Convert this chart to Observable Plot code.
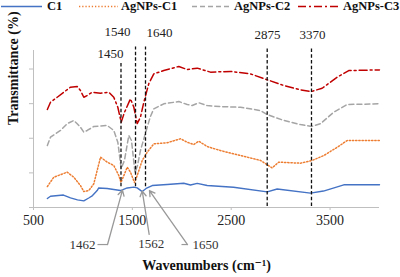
<!DOCTYPE html>
<html><head><meta charset="utf-8">
<script src="https://cdn.jsdelivr.net/npm/d3@7"></script>
<script src="https://cdn.jsdelivr.net/npm/@observablehq/plot@0.6"></script>
<style>
body{margin:0;background:#fff;font-family:"Liberation Serif","Times New Roman","DejaVu Serif",serif;}
#wrap{position:relative;width:400px;height:277px;overflow:hidden;}
#legend{position:relative;height:16px;width:400px;}
#legend .it{position:absolute;top:0;height:14px;font-weight:bold;font-size:12.5px;line-height:13px;color:#111;white-space:nowrap;font-family:"Liberation Serif","Times New Roman","DejaVu Serif",serif;}
#legend svg{position:absolute;top:0;}
svg text{font-family:"Liberation Serif","Times New Roman","DejaVu Serif",serif;}
</style></head>
<body><div id="wrap"><div id="legend"></div><div id="chart"></div></div>
<script>
// ---- data ----
const seriesNames = ["C1", "AgNPs-C1", "AgNPs-C2", "AgNPs-C3"];
const seriesColors = ["#4472C4", "#ED7D31", "#A5A5A5", "#C00000"];
const seriesDash = ["none", "1.3,1.9", "5,3", "8,3,2,3"];

const wnC1 = [640,672,803,874,945,1009,1059,1097,1144,1160,1245,1312,1380,1448,1515,1549,1600,1639,1701,1852,2020,2088,2156,2257,2523,2864,2965,3302,3433,3639,4000];
const trC1 = [5.2,6.5,7.2,5.6,4.4,3.8,5.5,6.9,9.8,11.3,11.0,10.4,9.8,11.3,11.8,11.3,9.2,11.0,12.7,13.3,14.0,13.0,13.9,12.7,11.7,9.0,10.7,8.3,9.5,13.1,13.1];

const wnAg1 = [640,705,841,908,975,1009,1059,1110,1144,1178,1245,1312,1363,1385,1448,1481,1522,1549,1600,1650,1717,1852,1987,2055,2121,2172,2257,2391,2594,2796,2864,2914,2981,3201,3319,3436,3572,3673,4000];
const trAg1 = [12.1,17.5,20.4,17.5,12.7,9.2,9.8,13.7,21.4,29.1,26.2,24.3,18.5,14.4,23.3,20.4,14.4,18.5,27.2,31.9,36.8,37.4,39.7,37.7,36.4,38.3,35.2,32.9,30.0,27.2,24.7,22.9,26.2,25.6,27.2,30.0,34.8,38.7,38.7];

const wnAg2 = [640,672,773,841,908,942,975,1009,1043,1110,1245,1312,1353,1387,1420,1464,1491,1527,1552,1582,1650,1683,1717,1818,1970,2055,2105,2172,2257,2391,2594,2796,2864,3032,3201,3312,3403,3538,3673,4000];
const trAg2 = [35.8,40.6,44.5,48.4,50.3,48.4,46.4,43.5,44.5,46.8,47.4,44.5,37.7,22.5,27.2,41.6,38.7,20.2,24.3,32.9,46.4,52.6,57.0,59.9,61.2,59.5,58.9,60.5,58.9,58.3,57.9,56.0,53.7,50.3,47.9,46.8,48.4,55.1,59.5,59.9];

const wnAg3 = [640,672,740,806,874,942,975,1009,1043,1094,1178,1262,1312,1353,1387,1420,1481,1515,1549,1582,1616,1666,1717,1818,1970,2055,2156,2290,2493,2695,2864,3032,3201,3312,3420,3572,3689,4000];
const trAg3 = [56.6,60.8,63.7,66.6,69.5,69.9,67.6,63.7,64.7,66.6,66.0,66.6,63.7,57.9,49.3,54.9,62.8,57.9,48.5,52.2,60.8,71.5,77.2,79.1,81.5,79.7,80.5,78.2,78.6,77.2,73.8,70.5,68.0,67.0,68.9,75.3,79.1,79.5];

const xTicks = [500, 1500, 2500, 3500];
const yTicks = [0, 20, 40, 60, 80];

// vertical marker lines (drawn position, label)
const peakX = [1385, 1532, 1633, 2864, 3312];
const peakTop = [83.2, 92.7, 92.7, 92.7, 92.7];
const peakBottom = [12, 12, 12, 0.6, 0.6];
const peakLabels = ["1450", "1540", "1640", "2875", "3370"];
const peakLabelX = [1279, 1350, 1775, 2867, 3322];
const peakLabelY = [89.0, 101.7, 101.1, 99.9, 99.9];

// arrow annotations under the axis
const arrowLabels = ["1462", "1562", "1650"];
const arrowLabelX = [1127, 1691, 2108];
const arrowLabelY = [-21.4, -20.8, -21.4];
const arrowLabelAnchor = ["end", "middle", "start"];
const arrowFromX = [1249, 1670, 2058];
const arrowFromY = [-21.4, -15.5, -21.4];
const arrowToX = [1400, 1600, 1673];
const arrowToY = [10.0, 9.5, 9.8];
const connFromX = [1147, 1997];
const connToX = [1249, 2058];
const connY = [-21.4, -21.4];

// ---- build tables ----
const wns = [wnC1, wnAg1, wnAg2, wnAg3];
const trs = [trC1, trAg1, trAg2, trAg3];
const seriesData = seriesNames.map((name, i) => wns[i].map((w, j) => ({name, x: w, y: trs[i][j]})));
const peaks = peakX.map((x, i) => ({x, y1: peakBottom[i], y2: peakTop[i], label: peakLabels[i], lx: peakLabelX[i], ly: peakLabelY[i]}));
const arrows = arrowLabels.map((t, i) => ({t, lx: arrowLabelX[i], ly: arrowLabelY[i], anchor: arrowLabelAnchor[i], x1: arrowFromX[i], y1: arrowFromY[i], x2: arrowToX[i], y2: arrowToY[i]}));
const conns = connFromX.map((x, i) => ({x1: x, x2: connToX[i], y: connY[i]}));

const font = "Liberation Serif, Times New Roman, DejaVu Serif, serif";
const marks = [
  Plot.ruleX([500], {stroke: "#BFBFBF", strokeWidth: 1}),
  Plot.ruleY([0], {stroke: "#BFBFBF", strokeWidth: 1}),
  Plot.axisY({ticks: yTicks, tickFormat: () => "", tickSize: 4, stroke: "#BFBFBF", label: null}),
  Plot.axisX({ticks: xTicks, tickFormat: d => String(d), tickSize: 3, tickPadding: 5, fontSize: 14, fontFamily: font, fill: "#222", stroke: "#BFBFBF", label: null}),
  ...seriesData.map((d, i) => Plot.line(d, {x: "x", y: "y", stroke: seriesColors[i], strokeWidth: i === 0 ? 1.4 : 1.5, strokeDasharray: seriesDash[i], curve: "linear"})),
  Plot.ruleX(peaks, {x: "x", y1: "y1", y2: "y2", stroke: "#111", strokeWidth: 1.3, strokeDasharray: "3.5,2.2"}),
  Plot.text(peaks, {x: "lx", y: "ly", text: "label", fontSize: 13, fontFamily: font, fill: "#222"}),
  Plot.link(conns, {x1: "x1", x2: "x2", y1: "y", y2: "y", stroke: "#999", strokeWidth: 1.2}),
  Plot.arrow(arrows, {x1: "x1", y1: "y1", x2: "x2", y2: "y2", stroke: "#999", strokeWidth: 1.3, headLength: 7}),
  ...["end","middle","start"].map(a => Plot.text(arrows.filter(d => d.anchor === a), {x: "lx", y: "ly", text: "t", textAnchor: a, fontSize: 13, fontFamily: font, fill: "#333"})),
  Plot.text(["Wavenumbers (cm\u207B\u00B9)"], {frameAnchor: "bottom", dy: 62, fontSize: 14, fontWeight: "bold", fontFamily: font, fill: "#111"}),
  Plot.text(["Transmittance (%)"], {frameAnchor: "left", rotate: -90, dx: -20, dy: -4, fontSize: 14, fontWeight: "bold", fontFamily: font, fill: "#111"})
];

const chart = Plot.plot({
  width: 400, height: 261,
  marginLeft: 33, marginRight: 21, marginTop: 34, marginBottom: 70,
  x: {domain: [500, 4000]},
  y: {domain: [0, 90.7]},
  style: {fontFamily: font, overflow: "visible", background: "#fff"},
  marks
});
document.getElementById("chart").appendChild(chart);

// ---- legend ----
const legendX = [[1, 42, 47], [79, 118, 121], [192, 230, 234], [298, 338, 343]];
const leg = document.getElementById("legend");
seriesNames.forEach((n, i) => {
  const [x1, x2, tx] = legendX[i];
  const s = document.createElementNS("http://www.w3.org/2000/svg", "svg");
  s.setAttribute("width", x2 - x1 + 2); s.setAttribute("height", 14);
  s.style.left = (x1 - 1) + "px";
  s.innerHTML = `<line x1="1" x2="${x2 - x1 + 1}" y1="6.5" y2="6.5" stroke="${seriesColors[i]}" stroke-width="1.5" stroke-dasharray="${seriesDash[i]}"/>`;
  leg.appendChild(s);
  const t = document.createElement("div");
  t.className = "it"; t.style.left = tx + "px"; t.textContent = n;
  leg.appendChild(t);
});
</script></body></html>
